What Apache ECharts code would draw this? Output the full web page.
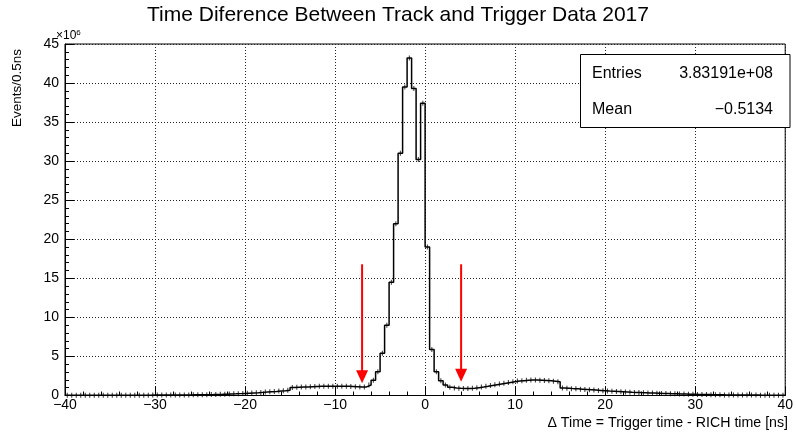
<!DOCTYPE html>
<html><head><meta charset="utf-8">
<script src="https://cdn.jsdelivr.net/npm/echarts@6/dist/echarts.min.js"></script>
<style>html,body{margin:0;padding:0;background:#fff}#c{width:796px;height:434px}</style>
</head><body><div id="c"></div>
<script>
// Histogram binning (ns) and bin contents (x10^6 events per 0.5 ns bin)
const BIN_LOW = -40;
const BIN_WIDTH = 0.5;
const counts = [
 0.02,0.02,0.02,0.02,0.02,0.02,0.02,0.02,0.02,0.02,
 0.03,0.03,0.03,0.03,0.03,0.04,0.04,0.04,0.04,0.05,
 0.05,0.05,0.06,0.06,0.07,0.07,0.08,0.08,0.09,0.09,
 0.10,0.11,0.12,0.14,0.15,0.17,0.19,0.21,0.24,0.27,
 0.30,0.33,0.36,0.40,0.44,0.48,0.52,0.57,0.62,0.68,
 1.02,1.05,1.08,1.10,1.13,1.15,1.17,1.18,1.20,1.20,
 1.20,1.19,1.18,1.16,1.12,1.08,1.10,1.35,1.95,3.05,
 5.4,9.0,14.5,22.0,31.0,39.5,43.2,39.3,30.2,37.4,
 19.0,5.9,3.05,1.9,1.35,1.05,0.95,0.92,0.90,0.90,
 0.92,1.0,1.08,1.17,1.27,1.37,1.47,1.57,1.67,1.77,
 1.85,1.9,1.95,1.97,1.97,1.95,1.92,1.88,1.82,1.75,
 0.95,0.92,0.88,0.85,0.81,0.77,0.73,0.69,0.65,0.61,
 0.57,0.54,0.51,0.48,0.45,0.42,0.40,0.37,0.35,0.33,
 0.31,0.29,0.27,0.25,0.23,0.21,0.19,0.18,0.16,0.15,
 0.14,0.13,0.12,0.11,0.10,0.09,0.08,0.08,0.07,0.06,
 0.06,0.05,0.05,0.05,0.04,0.04,0.04,0.03,0.03,0.03
];
// Cut arrows: x position (ns), top and tip (x10^6)
const arrowX = [-7, 4];
const arrowTop = [16.8, 16.8];
const arrowTip = [1.56, 1.75];
// Axis ranges / ticks
const xMin = -40, xMax = 40, xStep = 10;
const yMin = 0, yMax = 45, yStep = 5;
// Texts
const titleText = 'Time Diference Between Track and Trigger Data 2017';
const xTitle = '\u0394 Time = Trigger time - RICH time [ns]';
const yTitle = 'Events/0.5ns';
const statsLabels = ['Entries', 'Mean'];
const statsValues = ['3.83191e+08', '\u22120.5134'];

const FONT = 'Liberation Sans, Arial, Helvetica, sans-serif';

const stepData = counts.map((v, i) => [BIN_LOW + i * BIN_WIDTH, v]);
stepData.push([BIN_LOW + counts.length * BIN_WIDTH, counts[counts.length - 1]]);
const markData = counts.map((v, i) => [BIN_LOW + (i + 0.5) * BIN_WIDTH, v]);
const arrowData = arrowX.map((x, i) => [x, arrowTop[i], arrowTip[i]]);

const minus = s => String(s).replace('-', '\u2212');

const chart = echarts.init(document.getElementById('c'), null, {renderer: 'canvas'});
chart.setOption({
  animation: false,
  backgroundColor: '#fff',
  textStyle: {fontFamily: FONT},
  title: {
    text: titleText, left: 'center', top: 0,
    textStyle: {fontSize: 21, fontWeight: 'normal', color: '#000', fontFamily: FONT}
  },
  grid: {left: 65, top: 44, width: 725.5, height: 351.5, show: true,
         borderColor: '#000', borderWidth: 1, backgroundColor: 'transparent'},
  xAxis: {
    type: 'value', min: xMin, max: xMax, interval: xStep,
    axisLine: {show: true, onZero: false, lineStyle: {color: '#000', width: 1}},
    axisTick: {show: true, inside: true, length: 9, lineStyle: {color: '#000'}},
    minorTick: {show: true, splitNumber: 5, length: 4, lineStyle: {color: '#000'}},
    splitLine: {show: true, lineStyle: {color: '#222', type: [1, 2], width: 1}},
    axisLabel: {color: '#000', fontSize: 14, margin: 3, fontFamily: FONT, formatter: v => minus(v)}
  },
  yAxis: {
    type: 'value', min: yMin, max: yMax, interval: yStep,
    axisLine: {show: true, onZero: false, lineStyle: {color: '#000', width: 1}},
    axisTick: {show: true, inside: true, length: 9, lineStyle: {color: '#000'}},
    minorTick: {show: true, splitNumber: 5, length: 4, lineStyle: {color: '#000'}},
    splitLine: {show: true, lineStyle: {color: '#222', type: [1, 2], width: 1}},
    axisLabel: {color: '#000', fontSize: 14, margin: 6, fontFamily: FONT}
  },
  series: [
    {
      type: 'line', step: 'end', data: stepData, showSymbol: false, symbol: 'none',
      lineStyle: {color: '#000', width: 1.5}, z: 3
    },
    {
      type: 'scatter', data: markData, symbol: 'rect', symbolSize: [1, 5],
      itemStyle: {color: '#000'}, z: 4
    },
    {
      type: 'custom', data: arrowData, z: 5,
      renderItem: (params, api) => {
        const top = api.coord([api.value(0), api.value(1)]);
        const tip = api.coord([api.value(0), api.value(2)]);
        const hw = 6, hh = 13;
        return {
          type: 'group',
          children: [
            {type: 'line', shape: {x1: top[0], y1: top[1], x2: tip[0], y2: tip[1] - hh + 1},
             style: {stroke: '#ff0000', lineWidth: 2}},
            {type: 'polygon', shape: {points: [[tip[0] - hw, tip[1] - hh], [tip[0] + hw, tip[1] - hh], [tip[0], tip[1]]]},
             style: {fill: '#ff0000'}}
          ]
        };
      }
    }
  ],
  graphic: [
    {type: 'text', x: 56, y: 29, style: {text: '\u00d710{s|6}', fontSize: 12, fill: '#000', fontFamily: FONT,
      rich: {s: {fontSize: 8, verticalAlign: 'top', padding: [0, 0, 6, 0], fill: '#000', fontFamily: FONT}}}},
    {type: 'text', x: 17, y: 49, rotation: Math.PI / 2,
     style: {text: yTitle, fontSize: 13.5, fill: '#000', align: 'right', verticalAlign: 'middle', fontFamily: FONT}},
    {type: 'text', x: 788, y: 423,
     style: {text: xTitle, fontSize: 14.2, fill: '#000', align: 'right', verticalAlign: 'middle', fontFamily: FONT}},
    {type: 'rect', shape: {x: 580.5, y: 54.5, width: 209.5, height: 73}, z: 10,
     style: {fill: '#fff', stroke: '#000', lineWidth: 1}},
    {type: 'text', x: 592, y: 74, z: 11, style: {text: statsLabels[0], fontSize: 16, fill: '#000', verticalAlign: 'middle', fontFamily: FONT}},
    {type: 'text', x: 773, y: 74, z: 11, style: {text: statsValues[0], fontSize: 16, fill: '#000', align: 'right', verticalAlign: 'middle', fontFamily: FONT}},
    {type: 'text', x: 592, y: 110, z: 11, style: {text: statsLabels[1], fontSize: 16, fill: '#000', verticalAlign: 'middle', fontFamily: FONT}},
    {type: 'text', x: 773, y: 110, z: 11, style: {text: statsValues[1], fontSize: 16, fill: '#000', align: 'right', verticalAlign: 'middle', fontFamily: FONT}}
  ]
});
</script>
</body></html>
